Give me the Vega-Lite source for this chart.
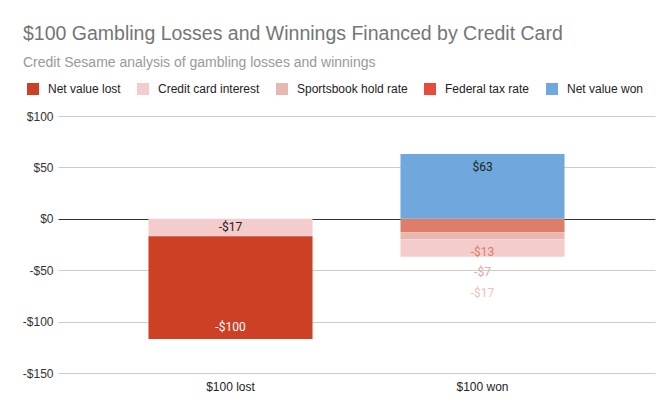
{
  "$schema": "https://vega.github.io/schema/vega-lite/v6.json",
  "autosize": {"type": "none"},
  "width": 597,
  "height": 257,
  "padding": {"left": 58, "top": 116, "right": 17, "bottom": 42},
  "background": "white",
  "title": {
    "text": "$100 Gambling Losses and Winnings Financed by Credit Card",
    "subtitle": "Credit Sesame analysis of gambling losses and winnings",
    "anchor": "start",
    "frame": "group",
    "dx": -35,
    "font": "Liberation Sans",
    "fontSize": 19.5,
    "fontWeight": "normal",
    "color": "#757575",
    "subtitleFont": "Liberation Sans",
    "subtitleFontSize": 14,
    "subtitleColor": "#999999",
    "subtitlePadding": 12,
    "offset": 12
  },
  "config": {
    "view": {"stroke": null},
    "font": "Liberation Sans"
  },
  "data": {
    "values": [
      {"category": "$100 lost", "series": "Credit card interest", "value": -17, "ord": 1, "label": "-$17"},
      {"category": "$100 lost", "series": "Net value lost", "value": -100, "ord": 2, "label": "-$100"},
      {"category": "$100 won", "series": "Net value won", "value": 63, "ord": 0, "label": "$63"},
      {"category": "$100 won", "series": "Federal tax rate", "value": -13, "ord": 1, "label": "-$13"},
      {"category": "$100 won", "series": "Sportsbook hold rate", "value": -7, "ord": 2, "label": "-$7"},
      {"category": "$100 won", "series": "Credit card interest", "value": -17, "ord": 3, "label": "-$17"}
    ]
  },
  "transform": [
    {"stack": "value", "groupby": ["category"], "sort": [{"field": "ord", "order": "ascending"}], "as": ["v0", "v1"], "offset": "zero"}
  ],
  "encoding": {
    "x": {
      "field": "category",
      "type": "nominal",
      "sort": ["$100 lost", "$100 won"],
      "scale": {"paddingInner": 0.349, "paddingOuter": 0.359},
      "axis": {
        "title": null,
        "labelAngle": 0,
        "ticks": false,
        "domain": false,
        "labelPadding": 8,
        "labelFont": "Liberation Sans",
        "labelFontSize": 12,
        "labelColor": "#222222"
      }
    }
  },
  "layer": [
    {
      "mark": {"type": "bar"},
      "encoding": {
        "y": {
          "field": "v0",
          "type": "quantitative",
          "scale": {"domain": [-150, 100], "nice": false},
          "axis": {
            "title": null,
            "values": [-150, -100, -50, 0, 50, 100],
            "labelExpr": "datum.value < 0 ? '-$' + abs(datum.value) : '$' + datum.value",
            "ticks": false,
            "domain": false,
            "labelPadding": 5,
            "labelFont": "Liberation Sans",
            "labelFontSize": 12,
            "labelColor": "#333333",
            "gridColor": {"condition": {"test": "datum.value === 0", "value": "#333333"}, "value": "#cccccc"},
            "gridWidth": 1
          }
        },
        "y2": {"field": "v1"},
        "color": {
          "condition": {"test": "datum.category === '$100 won' && datum.series === 'Federal tax rate'", "value": "#dd7e6b"},
          "field": "series",
          "type": "nominal",
          "scale": {
            "domain": ["Net value lost", "Credit card interest", "Sportsbook hold rate", "Federal tax rate", "Net value won"],
            "range": ["#cc4125", "#f4cccc", "#e6b8af", "#e64c3c", "#6fa8dc"]
          },
          "legend": {
            "title": null,
            "orient": "none",
            "legendX": -31,
            "legendY": -33,
            "direction": "horizontal",
            "columns": 5,
            "padding": 0,
            "symbolType": "square",
            "symbolSize": 144,
            "symbolStrokeWidth": 0,
            "labelFont": "Liberation Sans",
            "labelFontSize": 12,
            "labelColor": "#222222",
            "labelOffset": 9,
            "columnPadding": 16
          }
        }
      }
    },
    {
      "transform": [{"filter": "datum.category === '$100 lost' && datum.series === 'Credit card interest'"}],
      "mark": {"type": "text", "font": "Roboto", "fontSize": 12, "baseline": "middle", "dy": -9, "color": "#222222"},
      "encoding": {"y": {"field": "v1", "type": "quantitative"}, "text": {"field": "label"}}
    },
    {
      "transform": [{"filter": "datum.category === '$100 lost' && datum.series === 'Net value lost'"}],
      "mark": {"type": "text", "font": "Roboto", "fontSize": 12, "baseline": "middle", "dy": -12, "color": "#ffffff"},
      "encoding": {"y": {"field": "v1", "type": "quantitative"}, "text": {"field": "label"}}
    },
    {
      "transform": [{"filter": "datum.category === '$100 won' && datum.series === 'Net value won'"}],
      "mark": {"type": "text", "font": "Roboto", "fontSize": 12, "baseline": "middle", "dy": 13, "color": "#222222"},
      "encoding": {"y": {"field": "v1", "type": "quantitative"}, "text": {"field": "label"}}
    },
    {
      "transform": [{"filter": "datum.category === '$100 won' && datum.series === 'Federal tax rate'"}],
      "mark": {"type": "text", "font": "Roboto", "fontSize": 12, "baseline": "middle", "dy": 20, "color": "#dd7e6b"},
      "encoding": {"y": {"field": "v1", "type": "quantitative"}, "text": {"field": "label"}}
    },
    {
      "transform": [{"filter": "datum.category === '$100 won' && datum.series === 'Sportsbook hold rate'"}],
      "mark": {"type": "text", "font": "Roboto", "fontSize": 12, "baseline": "middle", "dy": 33, "color": "#e2a99d"},
      "encoding": {"y": {"field": "v1", "type": "quantitative"}, "text": {"field": "label"}}
    },
    {
      "transform": [{"filter": "datum.category === '$100 won' && datum.series === 'Credit card interest'"}],
      "mark": {"type": "text", "font": "Roboto", "fontSize": 12, "baseline": "middle", "dy": 36, "color": "#f0c0bc"},
      "encoding": {"y": {"field": "v1", "type": "quantitative"}, "text": {"field": "label"}}
    }
  ]
}
